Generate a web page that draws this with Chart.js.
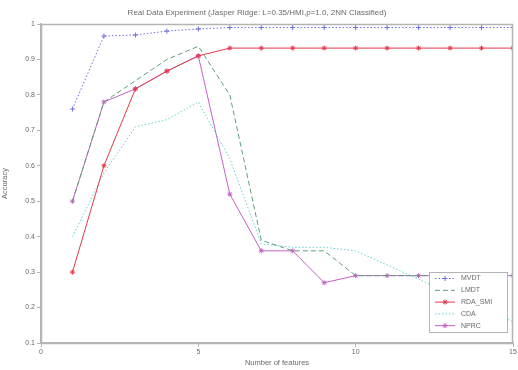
<!DOCTYPE html>
<html>
<head>
<meta charset="utf-8">
<script src="https://cdn.jsdelivr.net/npm/chart.js@4"></script>
<style>
  html, body { margin: 0; padding: 0; background: #fff; }
  #wrap { width: 518px; height: 370px; }
</style>
</head>
<body>
<div id="wrap"><canvas id="accChart" width="518" height="370"></canvas></div>
<script>
// feature counts on the x axis
const featureCounts = [1, 2, 3, 4, 5, 6, 7, 8, 9, 10, 11, 12, 13, 14, 15];

// accuracy per method
const mvdtAcc = [0.76, 0.966, 0.969, 0.98, 0.986, 0.99, 0.99, 0.99, 0.99, 0.99, 0.99, 0.99, 0.99, 0.99, 0.99];
const lmdtAcc = [0.50, 0.78, 0.84, 0.90, 0.937, 0.80, 0.39, 0.36, 0.36, 0.29, 0.29, 0.29, 0.29, 0.29, 0.29];
const rdaAcc  = [0.30, 0.60, 0.817, 0.867, 0.91, 0.932, 0.932, 0.932, 0.932, 0.932, 0.932, 0.932, 0.932, 0.932, 0.932];
const cdaAcc  = [0.40, 0.58, 0.71, 0.73, 0.78, 0.62, 0.38, 0.37, 0.37, 0.36, 0.32, 0.28, 0.24, 0.20, 0.16];
const nprcAcc = [0.50, 0.78, 0.817, 0.867, 0.91, 0.52, 0.36, 0.36, 0.27, 0.29, 0.29, 0.29, 0.29, 0.29, 0.29];

const methodNames = ['MVDT', 'LMDT', 'RDA_SMI', 'CDA', 'NPRC'];
const yTicks = [0.1, 0.2, 0.3, 0.4, 0.5, 0.6, 0.7, 0.8, 0.9, 1];
const xTicks = [0, 5, 10, 15];

const toPoints = arr => arr.map((v, i) => ({ x: featureCounts[i], y: v }));

const textColor = '#6a6a6a';
const axisColor = '#b4b4b4';
const fontFamily = '"Liberation Sans", Arial, sans-serif';

// box around the plot area (matlab style)
const frameBox = {
  id: 'frameBox',
  afterDraw(chart) {
    const { ctx, chartArea: a } = chart;
    ctx.save();
    ctx.strokeStyle = axisColor;
    ctx.lineWidth = 1.5;
    ctx.strokeRect(a.left + 0.5, a.top + 0.5, a.right - a.left - 1, a.bottom - a.top);
    ctx.restore();
  }
};

// legend drawn inside the lower right corner of the plot
const innerLegend = {
  id: 'innerLegend',
  afterDraw(chart) {
    const { ctx, chartArea: a } = chart;
    const w = 78, rowH = 11.8, h = rowH * 5 + 1;
    const x0 = a.right - w - 6, y0 = a.bottom - h - 11;
    ctx.save();
    ctx.fillStyle = '#fff';
    ctx.fillRect(x0, y0, w, h);
    ctx.strokeStyle = axisColor;
    ctx.lineWidth = 1;
    ctx.strokeRect(x0 + 0.5, y0 + 0.5, w, h);
    ctx.font = '7px ' + fontFamily;
    ctx.textBaseline = 'middle';
    chart.data.datasets.forEach((ds, i) => {
      const cy = y0 + 6.5 + i * rowH;
      ctx.strokeStyle = ds.borderColor;
      ctx.lineWidth = ds.borderWidth;
      ctx.setLineDash(ds.borderDash || []);
      ctx.beginPath();
      ctx.moveTo(x0 + 6, cy);
      ctx.lineTo(x0 + 26, cy);
      ctx.stroke();
      ctx.setLineDash([]);
      if (ds.pointRadius > 0) {
        Chart.helpers.drawPoint(ctx, {
          pointStyle: ds.pointStyle, radius: ds.pointRadius, borderWidth: 1
        }, x0 + 16, cy);
      }
      ctx.fillStyle = textColor;
      ctx.fillText(ds.label, x0 + 32, cy);
    });
    ctx.restore();
  }
};

function makeSet(label, data, color, dash, style, radius) {
  return {
    label: label,
    data: toPoints(data),
    borderColor: color,
    backgroundColor: color,
    borderWidth: 1,
    borderDash: dash,
    pointStyle: style,
    pointRadius: radius,
    pointBorderWidth: 1,
    fill: false,
    tension: 0
  };
}

const accChart = new Chart(document.getElementById('accChart'), {
  type: 'line',
  data: {
    datasets: [
      makeSet(methodNames[0], mvdtAcc, '#6e6ee0', [1.5, 2], 'cross', 2.5),
      makeSet(methodNames[1], lmdtAcc, '#5e9e76', [5, 3], false, 0),
      makeSet(methodNames[2], rdaAcc, '#e33a4a', [], 'star', 2.5),
      makeSet(methodNames[3], cdaAcc, '#62d0ca', [1.5, 2], false, 0),
      makeSet(methodNames[4], nprcAcc, '#c462c4', [], 'star', 2.5)
    ]
  },
  options: {
    responsive: false,
    animation: false,
    devicePixelRatio: 1,
    layout: { padding: { left: 0, right: 4, top: 0, bottom: 0 } },
    scales: {
      x: {
        type: 'linear',
        min: 0,
        max: 15,
        afterBuildTicks: s => { s.ticks = xTicks.map(v => ({ value: v })); },
        afterFit: s => { s.height = 27; },
        grid: { drawOnChartArea: false, color: axisColor, tickLength: 4 },
        border: { color: axisColor, width: 1.5 },
        ticks: { color: textColor, padding: 1, font: { size: 7, family: fontFamily } },
        title: {
          display: true,
          text: 'Number of features',
          color: textColor,
          padding: { top: 0, bottom: 3 },
          font: { size: 7.5, family: fontFamily }
        }
      },
      y: {
        min: 0.1,
        max: 1,
        afterBuildTicks: s => { s.ticks = yTicks.map(v => ({ value: v })); },
        afterFit: s => { s.width = 41; },
        grid: { drawOnChartArea: false, color: axisColor, tickLength: 4 },
        border: { color: axisColor, width: 1.5 },
        ticks: {
          color: textColor,
          padding: 2,
          font: { size: 7, family: fontFamily },
          callback: v => String(Math.round(v * 10) / 10)
        },
        title: {
          display: true,
          text: 'Accuracy',
          color: textColor,
          padding: { top: 0, bottom: 4 },
          font: { size: 7.5, family: fontFamily }
        }
      }
    },
    plugins: {
      legend: { display: false },
      tooltip: { enabled: false },
      title: {
        display: true,
        text: 'Real Data Experiment (Jasper Ridge: L=0.35/HMI,p=1.0, 2NN Classified)',
        color: textColor,
        padding: { top: 8, bottom: 6.4 },
        font: { size: 8, weight: 'normal', family: fontFamily }
      }
    }
  },
  plugins: [frameBox, innerLegend]
});
</script>
</body>
</html>
